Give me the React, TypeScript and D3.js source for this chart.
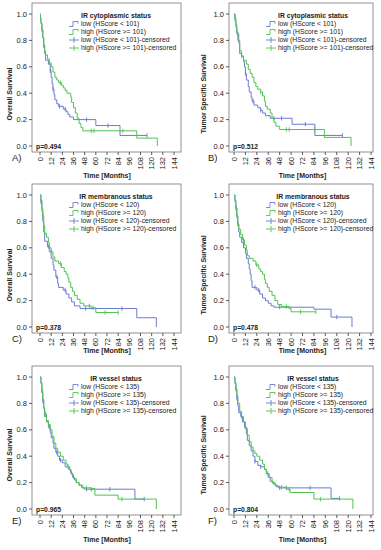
import * as d3 from "d3";

type Pt = [number, number];

const xTicks = [0, 12, 24, 36, 48, 60, 72, 84, 96, 108, 120, 132, 144];
const yTicks = [0, 0.2, 0.4, 0.6, 0.8, 1.0];

// A) overall survival, cytoplasmic
const aLow: Pt[] = [[0,1],[0.5,0.97],[1,0.93],[2,0.88],[3,0.82],[4,0.76],[5,0.7],[6,0.65],[9,0.62],[11,0.57],[12,0.52],[13,0.47],[14,0.43],[15,0.39],[16,0.35],[18,0.32],[20,0.3],[25,0.28],[28,0.26],[30,0.24],[32,0.22],[36,0.2],[60,0.155],[86,0.08],[115,0.08]];
const aLowCens = [4, 11, 14, 21, 27, 50, 73, 115];
const aHigh: Pt[] = [[0,1],[0.5,0.97],[1,0.93],[2,0.88],[3,0.82],[4,0.76],[5,0.72],[6,0.69],[8,0.66],[10,0.63],[12,0.6],[14,0.56],[16,0.52],[18,0.5],[20,0.48],[23,0.46],[25,0.44],[27,0.42],[29,0.4],[33,0.37],[34,0.33],[36,0.29],[38,0.25],[40,0.21],[42,0.17],[44,0.14],[46,0.115],[104,0.06],[126,0]];
const aHighCens = [2, 10, 22, 55, 58, 89];

// B) tumor specific survival, cytoplasmic
const bLow: Pt[] = [[0,1],[1,0.95],[2,0.9],[3,0.85],[5,0.78],[6,0.7],[8,0.68],[10,0.64],[11,0.6],[12,0.55],[13,0.5],[15,0.45],[16,0.41],[18,0.37],[19,0.34],[21,0.31],[25,0.29],[28,0.27],[30,0.25],[33,0.23],[38,0.21],[61,0.165],[85,0.08],[114,0.08]];
const bLowCens = [4, 12, 20, 28, 42, 50, 75, 114];
const bHigh: Pt[] = [[0,1],[1,0.97],[2,0.92],[3,0.86],[4,0.8],[6,0.72],[8,0.68],[10,0.65],[13,0.62],[15,0.58],[17,0.55],[19,0.52],[21,0.48],[23,0.45],[25,0.43],[28,0.41],[30,0.38],[32,0.34],[33,0.3],[35,0.28],[38,0.25],[40,0.21],[42,0.18],[44,0.15],[48,0.125],[95,0.065],[123,0]];
const bHighCens = [1, 8, 28, 55, 58, 85];

// C) overall survival, membranous
const cLow: Pt[] = [[0,1],[1,0.95],[2,0.88],[3,0.8],[4,0.72],[5,0.65],[8,0.61],[10,0.57],[12,0.52],[14,0.47],[15,0.43],[17,0.38],[19,0.33],[20,0.3],[25,0.28],[28,0.25],[31,0.22],[34,0.19],[37,0.16],[43,0.14],[104,0.07],[125,0]];
const cLowCens = [1, 9, 18, 27, 49, 88];
const cHigh: Pt[] = [[0,1],[1,0.96],[2,0.9],[3,0.84],[4,0.77],[5,0.71],[7,0.68],[9,0.64],[10,0.6],[12,0.57],[14,0.53],[16,0.5],[20,0.48],[23,0.45],[26,0.42],[28,0.4],[30,0.37],[31,0.34],[33,0.3],[35,0.27],[37,0.24],[40,0.21],[43,0.18],[47,0.16],[55,0.145],[60,0.11],[84,0.11]];
const cHighCens = [3, 12, 22, 53, 57, 70, 84];

// D) tumor specific survival, membranous
const dLow: Pt[] = [[0,1],[1,0.95],[2,0.9],[3,0.84],[4,0.78],[5,0.72],[6,0.68],[8,0.64],[10,0.6],[12,0.56],[13,0.52],[15,0.48],[16,0.44],[17,0.4],[18,0.35],[19,0.3],[24,0.28],[27,0.25],[30,0.22],[33,0.2],[36,0.18],[39,0.16],[42,0.15],[84,0.135],[102,0.075],[124,0]];
const dLowCens = [2, 4, 22, 26, 48, 108];
const dHigh: Pt[] = [[0,1],[1,0.96],[2,0.9],[3,0.84],[4,0.78],[5,0.74],[7,0.7],[9,0.66],[11,0.62],[13,0.58],[14,0.54],[16,0.52],[20,0.5],[23,0.47],[26,0.44],[28,0.42],[30,0.4],[32,0.36],[33,0.33],[35,0.3],[37,0.27],[40,0.24],[43,0.2],[46,0.17],[50,0.155],[58,0.14],[60,0.115],[86,0.115]];
const dHighCens = [3, 10, 24, 55, 70, 86];

// E) overall survival, vessel
const eLow: Pt[] = [[0,1],[1,0.95],[2,0.88],[3,0.82],[4,0.76],[5,0.7],[7,0.66],[9,0.62],[11,0.58],[12,0.54],[14,0.5],[15,0.46],[17,0.43],[19,0.4],[21,0.37],[24,0.35],[27,0.32],[31,0.3],[33,0.27],[35,0.24],[37,0.22],[39,0.2],[42,0.18],[45,0.16],[48,0.15],[102,0.075],[112,0.075]];
const eLowCens = [3, 10, 18, 22, 50, 55, 75, 112];
const eHigh: Pt[] = [[0,1],[1,0.96],[2,0.9],[3,0.83],[4,0.77],[5,0.72],[7,0.67],[9,0.64],[11,0.6],[13,0.55],[15,0.5],[17,0.46],[19,0.43],[22,0.4],[25,0.37],[28,0.34],[30,0.32],[32,0.29],[34,0.26],[36,0.23],[39,0.2],[42,0.18],[46,0.16],[55,0.155],[59,0.105],[84,0.075],[125,0]];
const eHighCens = [2, 6, 30, 50, 88];

// F) tumor specific survival, vessel
const fLow: Pt[] = [[0,1],[1,0.95],[2,0.9],[3,0.84],[4,0.78],[5,0.73],[7,0.7],[9,0.66],[11,0.62],[13,0.57],[14,0.52],[16,0.48],[18,0.44],[20,0.4],[22,0.36],[25,0.33],[28,0.32],[32,0.3],[34,0.27],[36,0.24],[38,0.21],[41,0.19],[44,0.17],[47,0.16],[102,0.08],[111,0.08]];
const fLowCens = [3, 12, 22, 28, 48, 55, 80, 111];
const fHigh: Pt[] = [[0,1],[1,0.96],[2,0.91],[3,0.86],[4,0.8],[6,0.74],[8,0.7],[10,0.66],[12,0.61],[14,0.56],[16,0.51],[18,0.47],[20,0.44],[22,0.42],[24,0.4],[27,0.37],[30,0.34],[32,0.3],[34,0.27],[37,0.24],[40,0.2],[43,0.18],[46,0.165],[55,0.15],[59,0.125],[84,0.075],[125,0]];
const fHighCens = [2, 8, 35, 50, 58, 91];

const panelLabels = ["A)", "B)", "C)", "D)", "E)", "F)"];
const yTitles = ["Overall Survival", "Tumor Specific Survival"];
const legendTitles = ["IR cytoplasmic status", "IR membranous status", "IR vessel status"];
const cutoffs = [101, 120, 135];
const pValues = ["p=0.494", "p=0.512", "p=0.378", "p=0.478", "p=0.965", "p=0.804"];

const lows = [aLow, bLow, cLow, dLow, eLow, fLow];
const lowCens = [aLowCens, bLowCens, cLowCens, dLowCens, eLowCens, fLowCens];
const highs = [aHigh, bHigh, cHigh, dHigh, eHigh, fHigh];
const highCens = [aHighCens, bHighCens, cHighCens, dHighCens, eHighCens, fHighCens];

const BLUE = "#6b7bd2";
const GREEN = "#4fc44f";
const FONT = "Liberation Sans, Arial, sans-serif";

// layout per column / row
const cols = [
  { boxL: 32, boxR: 181, x0: 40, x1: 174, yTitleX: 9, labelX: 12 },
  { boxL: 229, boxR: 373, x0: 234, x1: 371, yTitleX: 203, labelX: 208 },
];
const rows = [
  { y1: 14, y0: 146, yTitleY: 94, timeY: 178 },
  { y1: 195, y0: 327, yTitleY: 275, timeY: 353 },
  { y1: 377, y0: 509, yTitleY: 455, timeY: 542 },
];

function stepAt(pts: Pt[], t: number) {
  let s = pts[0][1];
  for (const p of pts) if (p[0] <= t) s = p[1];
  return s;
}

function Panel({ idx }: { idx: number }) {
  const col = cols[idx % 2];
  const row = rows[Math.floor(idx / 2)];
  const r = Math.floor(idx / 2);
  const x = d3.scaleLinear().domain([0, 144]).range([col.x0, col.x1]);
  const y = d3.scaleLinear().domain([0, 1]).range([row.y0, row.y1]);
  const line = d3
    .line<Pt>()
    .x((d) => x(d[0]))
    .y((d) => y(d[1]))
    .curve(d3.curveStepAfter);
  const boxTop = row.y1 - 11;
  const boxBot = row.y0 + 6;
  const cut = cutoffs[r];
  const legX = col.boxL + 37;
  const legItems = [
    { text: `low (HScore < ${cut})`, color: BLUE, kind: "step" },
    { text: `high (HScore >= ${cut})`, color: GREEN, kind: "step" },
    { text: `low (HScore < ${cut})-censored`, color: BLUE, kind: "cens" },
    { text: `high (HScore >= ${cut})-censored`, color: GREEN, kind: "cens" },
  ];
  const series = [
    { pts: lows[idx], cens: lowCens[idx], color: BLUE },
    { pts: highs[idx], cens: highCens[idx], color: GREEN },
  ];
  return (
    <g fontFamily={FONT}>
      <rect x={col.boxL} y={boxTop} width={col.boxR - col.boxL} height={boxBot - boxTop} fill="#fff" stroke="#777" strokeWidth={0.8} />
      {yTicks.map((t) => (
        <g key={t}>
          <line x1={col.boxL - 3} x2={col.boxL} y1={y(t)} y2={y(t)} stroke="#333" strokeWidth={0.8} />
          <text x={col.boxL - 5} y={y(t) + 2.6} fontSize={7.5} textAnchor="end" fill="#222">
            {t.toFixed(1)}
          </text>
        </g>
      ))}
      {xTicks.map((t) => (
        <g key={t}>
          <line x1={x(t)} x2={x(t)} y1={boxBot} y2={boxBot + 3} stroke="#333" strokeWidth={0.8} />
          <text
            transform={`translate(${x(t) + 2.5},${boxBot + 5}) rotate(-90)`}
            fontSize={7.5}
            textAnchor="end"
            fill="#222"
          >
            {t}
          </text>
        </g>
      ))}
      {series.map((s, i) => (
        <g key={i}>
          <path d={line(s.pts) ?? ""} fill="none" stroke={s.color} strokeWidth={1} />
          {s.cens.map((c, j) => (
            <line key={j} x1={x(c)} x2={x(c)} y1={y(stepAt(s.pts, c)) - 2.2} y2={y(stepAt(s.pts, c)) + 2.2} stroke={s.color} strokeWidth={0.9} />
          ))}
        </g>
      ))}
      <text x={col.boxL + 84} y={row.y1 + 3.5} fontSize={6.8} fontWeight="bold" textAnchor="middle" fill="#222">
        {legendTitles[r]}
      </text>
      {legItems.map((it, i) => {
        const ly = row.y1 + 10 + i * 8;
        return (
          <g key={i}>
            {it.kind === "step" ? (
              <path d={`M${legX},${ly + 2.5}H${legX + 4}V${ly - 2.5}H${legX + 9}V${ly - 0.5}`} fill="none" stroke={it.color} strokeWidth={0.9} />
            ) : (
              <g>
                <line x1={legX} x2={legX + 10} y1={ly} y2={ly} stroke={it.color} strokeWidth={0.9} />
                <line x1={legX + 5} x2={legX + 5} y1={ly - 3} y2={ly + 3} stroke={it.color} strokeWidth={0.9} />
              </g>
            )}
            <text x={legX + 12} y={ly + 2.4} fontSize={6.8} fill="#222">
              {it.text}
            </text>
          </g>
        );
      })}
      <text x={col.boxL + 4} y={row.y0 + 2.5} fontSize={6.8} fontWeight="bold" fill="#222">
        {pValues[idx]}
      </text>
      <text x={col.labelX} y={row.y0 + 15} fontSize={9.5} fill="#222">
        {panelLabels[idx]}
      </text>
      <text x={(col.x0 + col.x1) / 2} y={row.timeY} fontSize={7} fontWeight="bold" textAnchor="middle" fill="#222">
        Time [Months]
      </text>
      <text
        transform={`translate(${col.yTitleX + 2.5},${row.yTitleY}) rotate(-90)`}
        fontSize={7}
        fontWeight="bold"
        textAnchor="middle"
        fill="#222"
      >
        {yTitles[idx % 2]}
      </text>
    </g>
  );
}

export default function App() {
  return (
    <svg
      width={381}
      height={550}
      viewBox="0 0 381 550"
      style={{ position: "absolute", left: 0, top: 0, background: "#fff" }}
    >
      {[0, 1, 2, 3, 4, 5].map((i) => (
        <Panel key={i} idx={i} />
      ))}
    </svg>
  );
}
